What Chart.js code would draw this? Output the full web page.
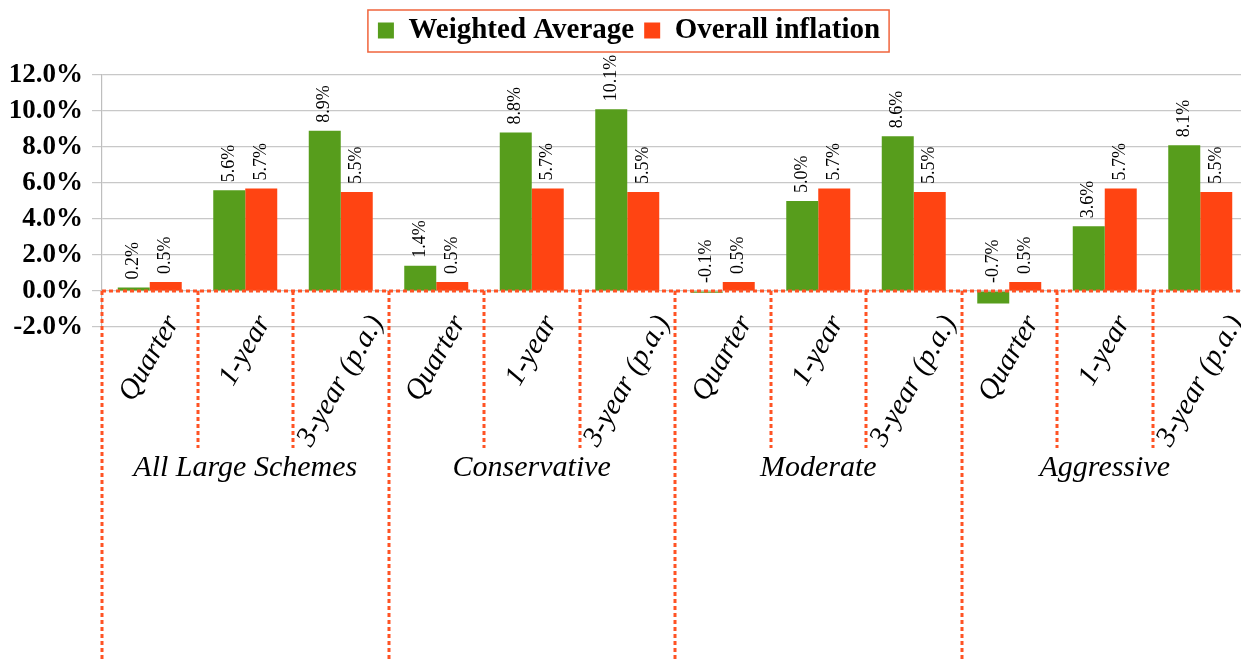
<!DOCTYPE html>
<html>
<head>
<meta charset="utf-8">
<script src="https://cdn.jsdelivr.net/npm/chart.js@4.4.1/dist/chart.umd.min.js"></script>
<style>
html, body { margin: 0; padding: 0; background: #fff; overflow: hidden; }
#wrap { width: 1248px; height: 661px; }
</style>
</head>
<body>
<div id="wrap"><canvas id="returnsChart" width="1248" height="661"></canvas></div>
<script>
/* data */
const groups = ['All Large Schemes', 'Conservative', 'Moderate', 'Aggressive'];
const periods = ['Quarter', '1-year', '3-year (p.a.)'];
const weightedAverage = [0.2, 5.6, 8.9, 1.4, 8.8, 10.1, -0.1, 5.0, 8.6, -0.7, 3.6, 8.1];
const overallInflation = [0.5, 5.7, 5.5, 0.5, 5.7, 5.5, 0.5, 5.7, 5.5, 0.5, 5.7, 5.5];
const yTicks = [-2, 0, 2, 4, 6, 8, 10, 12];

const categories = [];
groups.forEach(g => periods.forEach(p => categories.push(p)));

const green = '#579D1C';
const red = '#FF4412';
const dotted = '#FF5324';
const serif = "'Liberation Serif', 'DejaVu Serif', serif";

Chart.defaults.font.family = serif;
Chart.defaults.color = '#000';

/* red dotted zero line and category separators */
const separators = {
    id: 'separators',
    afterDatasetsDraw(chart) {
        const { ctx, chartArea, scales: { x, y } } = chart;
        const step = (chartArea.right - chartArea.left) / categories.length;
        const y0 = y.getPixelForValue(0);
        ctx.save();
        ctx.strokeStyle = dotted;
        ctx.lineWidth = 3;
        ctx.setLineDash([4, 3]);
        ctx.beginPath();
        ctx.moveTo(chartArea.left, y0);
        ctx.lineTo(chartArea.right, y0);
        ctx.stroke();
        for (let i = 0; i <= categories.length; i++) {
            const xi = Math.round(x.getPixelForValue(i) - step / 2);
            const end = i % periods.length === 0 ? chart.height : 448;
            ctx.beginPath();
            ctx.moveTo(xi, y0);
            ctx.lineTo(xi, end);
            ctx.stroke();
        }
        ctx.restore();
    }
};

/* vertical value labels above the bars */
const valueLabels = {
    id: 'valueLabels',
    afterDatasetsDraw(chart) {
        const { ctx, scales: { y } } = chart;
        ctx.save();
        ctx.font = '18px ' + serif;
        ctx.fillStyle = '#000';
        ctx.textAlign = 'left';
        ctx.textBaseline = 'middle';
        chart.data.datasets.forEach((ds, d) => {
            chart.getDatasetMeta(d).data.forEach((bar, i) => {
                const v = ds.data[i];
                ctx.save();
                ctx.translate(bar.x, y.getPixelForValue(Math.max(v, 0)) - 8);
                ctx.rotate(-Math.PI / 2);
                ctx.fillText(v.toFixed(1) + '%', 0, 0);
                ctx.restore();
            });
        });
        ctx.restore();
    }
};

/* rotated period labels, group names and legend frame */
const axisText = {
    id: 'axisText',
    afterDraw(chart) {
        const { ctx, scales: { x } } = chart;
        const ang = Math.PI / 3;
        ctx.save();
        ctx.fillStyle = '#000';
        ctx.font = 'italic 29px ' + serif;
        ctx.textAlign = 'center';
        ctx.textBaseline = 'middle';
        categories.forEach((c, i) => {
            const w = ctx.measureText(c).width;
            const h = 24;
            const boxH = w * Math.sin(ang) + h * Math.cos(ang);
            ctx.save();
            ctx.translate(x.getPixelForValue(i), 312 + boxH / 2);
            ctx.rotate(-ang);
            ctx.fillText(c, 0, 0);
            ctx.restore();
        });
        ctx.font = 'italic 30px ' + serif;
        ctx.textBaseline = 'alphabetic';
        groups.forEach((g, k) => {
            ctx.fillText(g, x.getPixelForValue(k * periods.length + 1), 476);
        });

        const hb = chart.legend.legendHitBoxes;
        if (hb && hb.length) {
            const first = hb[0];
            const last = hb[hb.length - 1];
            ctx.strokeStyle = '#F0643C';
            ctx.lineWidth = 1.5;
            ctx.strokeRect(first.left - 10, first.top - 6,
                last.left + last.width + 19 - first.left, first.height + 13);
        }
        ctx.restore();
    }
};

const ctx = document.getElementById('returnsChart').getContext('2d');
const returnsChart = new Chart(ctx, {
    type: 'bar',
    data: {
        labels: categories,
        datasets: [{
            label: 'Weighted Average',
            data: weightedAverage,
            backgroundColor: green,
            borderWidth: 0
        },
        {
            label: 'Overall inflation',
            data: overallInflation,
            backgroundColor: red,
            borderWidth: 0
        }]
    },
    options: {
        responsive: false,
        animation: false,
        layout: { padding: { top: 6, bottom: 334, left: 10, right: 0 } },
        datasets: {
            bar: { categoryPercentage: 0.67, barPercentage: 1.0 }
        },
        scales: {
            x: { display: false },
            y: {
                min: -2,
                max: 12,
                afterBuildTicks: axis => { axis.ticks = yTicks.map(v => ({ value: v })); },
                afterFit: axis => { axis.width = 92; },
                grid: { color: '#C8C8C8', lineWidth: 1.2, tickLength: 10 },
                border: { color: '#BEBEBE', width: 1.2 },
                ticks: {
                    padding: 9,
                    font: { size: 27, weight: 'bold' },
                    callback: v => v.toFixed(1) + '%'
                }
            }
        },
        plugins: {
            legend: {
                position: 'top',
                labels: {
                    boxWidth: 16,
                    boxHeight: 16,
                    padding: 10,
                    font: { size: 29, weight: 'bold' }
                }
            },
            // empty title below the legend keeps the gap above the plot
            title: {
                display: true,
                text: '',
                weight: 500,
                padding: 0,
                font: { size: 20, lineHeight: 1 }
            },
            tooltip: { enabled: false }
        }
    },
    plugins: [separators, valueLabels, axisText]
});
</script>
</body>
</html>
